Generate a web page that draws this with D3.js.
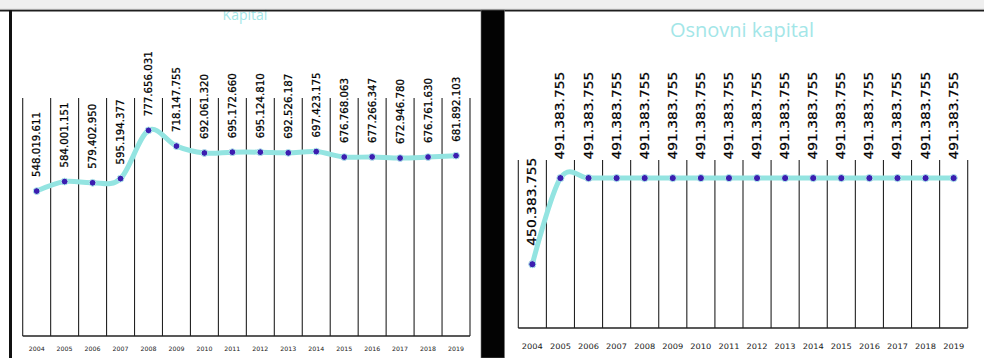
<!DOCTYPE html>
<html>
<head>
<meta charset="utf-8">
<script src="https://cdn.jsdelivr.net/npm/d3@7/dist/d3.min.js"></script>
<style>
  html, body { margin: 0; padding: 0; background: #fff; }
  svg { display: block; }
</style>
</head>
<body>
<svg id="chart" width="984" height="358"></svg>
<script>
// Years shown on both charts
const years = ["2004","2005","2006","2007","2008","2009","2010","2011",
               "2012","2013","2014","2015","2016","2017","2018","2019"];

// Kapital (total capital)
const kapital = [548019611, 584001151, 579402950, 595194377, 777656031, 718147755,
                 692061320, 695172660, 695124810, 692526187, 697423175, 676768063,
                 677266347, 672946780, 676761630, 681892103];

// Osnovni kapital (share capital)
const osnovniKapital = [450383755, 491383755, 491383755, 491383755, 491383755, 491383755,
                        491383755, 491383755, 491383755, 491383755, 491383755, 491383755,
                        491383755, 491383755, 491383755, 491383755];

const titles = ["Kapital", "Osnovni kapital"];

const svg = d3.select("#chart");
const fmt = v => d3.format(",")(v).replace(/,/g, ".");

const LINE = "#93e4e1";
const DOT = "#3b1eb0";
const TITLE = "#a3e6e8";

function drawPanel(cfg) {
  const g = svg.append("g");
  const x = d3.scaleBand().domain(years).range([cfg.x0, cfg.x1]).padding(0);
  const y = d3.scaleLinear().domain(cfg.domain).range([cfg.bottom, cfg.top]);

  // title
  g.append("text")
    .attr("x", cfg.titleX).attr("y", cfg.titleY)
    .attr("text-anchor", "middle")
    .attr("font-family", "'Open Sans', sans-serif")
    .attr("font-size", cfg.titleSize)
    .attr("fill", TITLE)
    .text(cfg.title);

  // vertical separators at category boundaries
  const bounds = years.map(d => x(d)).concat([cfg.x1]);
  g.selectAll("line.sep").data(bounds).join("line")
    .attr("class", "sep")
    .attr("x1", d => d).attr("x2", d => d)
    .attr("y1", cfg.top).attr("y2", cfg.bottom)
    .attr("stroke", "#222").attr("stroke-width", 1.1);

  // baseline
  g.append("line")
    .attr("x1", cfg.x0).attr("x2", cfg.x1)
    .attr("y1", cfg.bottom).attr("y2", cfg.bottom)
    .attr("stroke", "#222").attr("stroke-width", 1.4);

  // year labels
  g.selectAll("text.year").data(years).join("text")
    .attr("class", "year")
    .attr("x", d => x(d) + x.bandwidth() / 2)
    .attr("y", cfg.yearY)
    .attr("text-anchor", "middle")
    .attr("font-family", "'DejaVu Sans', sans-serif")
    .attr("font-size", cfg.yearSize)
    .attr("fill", "#1a1a1a")
    .attr("textLength", cfg.yearLen)
    .attr("lengthAdjust", "spacingAndGlyphs")
    .text(d => d);

  const pts = years.map((d, i) => ({ year: d, v: cfg.values[i] }));

  // smoothed line
  const line = d3.line()
    .x(d => x(d.year) + x.bandwidth() / 2)
    .y(d => y(d.v))
    .curve(d3.curveCardinal.tension(0));
  g.append("path")
    .datum(pts)
    .attr("d", line)
    .attr("fill", "none")
    .attr("stroke", LINE)
    .attr("stroke-width", 5)
    .attr("stroke-linecap", "round");

  // markers
  g.selectAll("circle").data(pts).join("circle")
    .attr("cx", d => x(d.year) + x.bandwidth() / 2)
    .attr("cy", d => y(d.v))
    .attr("r", cfg.r)
    .attr("fill", DOT)
    .attr("stroke", "#b4eeee")
    .attr("stroke-width", 1);

  // value labels, rotated
  g.selectAll("text.val").data(pts).join("text")
    .attr("class", "val")
    .attr("transform", d => `translate(${x(d.year) + x.bandwidth() / 2 + cfg.labelDx},${y(d.v) - cfg.labelGap}) rotate(-90)`)
    .attr("text-anchor", "start")
    .attr("font-family", "'DejaVu Sans', sans-serif")
    .attr("font-size", cfg.labelSize)
    .attr("fill", "#000")
    .attr("stroke", "#000")
    .attr("stroke-width", 0.25)
    .attr("textLength", cfg.labelLen)
    .attr("lengthAdjust", "spacingAndGlyphs")
    .text(d => fmt(d.v));
}

drawPanel({
  title: titles[0], titleX: 245, titleY: 20, titleSize: 14,
  values: kapital, domain: [0, 900000000],
  x0: 22.7, x1: 470, top: 98, bottom: 336,
  yearY: 351, yearSize: 6, yearLen: 16,
  labelSize: 10, labelLen: 65, labelGap: 14, labelDx: 3.5, r: 3.4
});

drawPanel({
  title: titles[1], titleX: 742, titleY: 37, titleSize: 20,
  values: osnovniKapital, domain: [420000000, 500000000],
  x0: 518.3, x1: 967.7, top: 160, bottom: 328,
  yearY: 349, yearSize: 7.5, yearLen: 21,
  labelSize: 12, labelLen: 88, labelGap: 18.5, labelDx: 4, r: 3.6
});

// frame: grey strip across the top, left border and dark divider band
svg.append("rect").attr("x", 0).attr("y", 0).attr("width", 984).attr("height", 9.5).attr("fill", "#efefef");
svg.append("line").attr("x1", 0).attr("x2", 984).attr("y1", 9.3).attr("y2", 9.3).attr("stroke", "#bbb").attr("stroke-width", 0.8);
svg.append("line").attr("x1", 0).attr("x2", 984).attr("y1", 10.6).attr("y2", 10.6).attr("stroke", "#1e1e1e").attr("stroke-width", 1.6);
svg.append("rect").attr("x", 9).attr("y", 10).attr("width", 3).attr("height", 348).attr("fill", "#111");
svg.append("rect").attr("x", 481).attr("y", 10).attr("width", 23.5).attr("height", 348).attr("fill", "#030303")
  .attr("stroke", "#777").attr("stroke-width", 0.6);
</script>
</body>
</html>
